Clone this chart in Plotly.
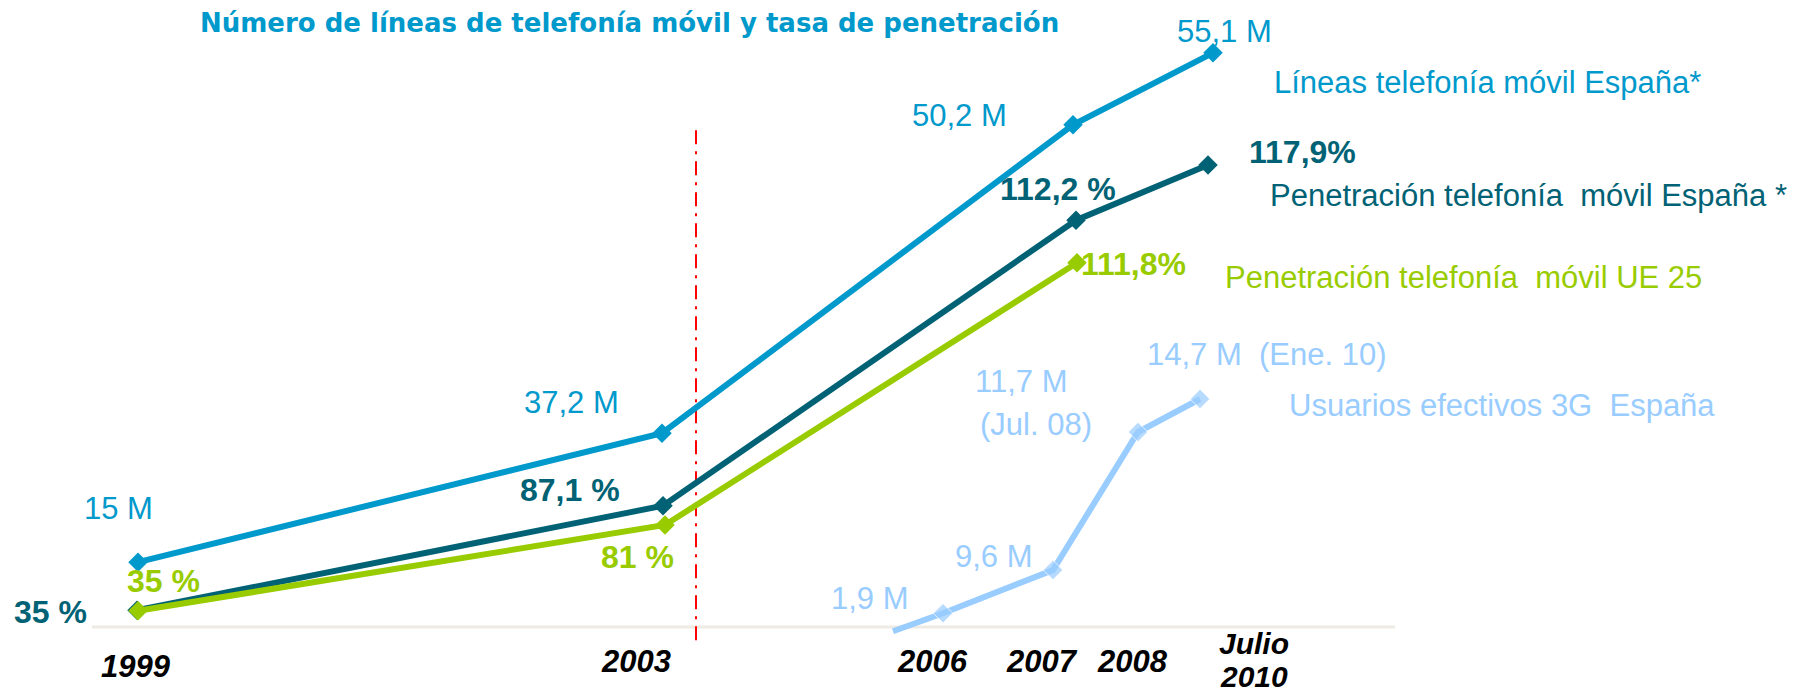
import plotly.graph_objects as go

# ---------------- data ----------------
# horizontal placement of each point on the chart's own (schematic) timeline
lineas_x = [13.8, 66.2, 107.3, 121.3]
pen_es_x = [13.7, 66.3, 107.6, 120.8]
pen_ue_x = [13.8, 66.5, 107.7]
g3_x = [89.3, 94.3, 105.3, 113.8, 120.0]

# plotted heights (schematic, not to scale)
lineas_h = [10.8, 32.3, 83.7, 95.7]
pen_es_h = [2.8, 20.2, 67.8, 77.0]
pen_ue_h = [2.7, 17.0, 60.7]
g3_h = [-0.7, 2.3, 9.5, 32.5, 38.0]

# values written on the chart
lineas_M = ["15 M", "37,2 M", "50,2 M", "55,1 M"]
pen_es_pct = ["35 %", "87,1 %", "112,2 %", "117,9%"]
pen_ue_pct = ["35 %", "81 %", "111,8%"]
g3_M = ["1,9 M", "9,6 M", "11,7 M", "(Jul. 08)", "14,7 M  (Ene. 10)"]

years = ["1999", "2003", "2006", "2007", "2008", "Julio", "2010"]
series_names = ["Líneas telefonía móvil España*",
                "Penetración telefonía\u00a0 móvil España *",
                "Penetración telefonía\u00a0 móvil UE 25",
                "Usuarios efectivos 3G\u00a0 España"]
title = "Número de líneas de telefonía móvil y tasa de penetración"
baseline_x = [9.2, 139.5]
baseline_h = [0, 0]
divider_x = [69.6, 69.6]
divider_h = [82.8, -2.7]

# ---------------- style ----------------
C_LIN = "#0099CC"
C_ES = "#006274"
C_UE = "#99CC00"
C_3G = "#99CCFF"
FONT = "Arial, Liberation Sans, sans-serif"
LW = 6
MS = 15

fig = go.Figure()
fig.add_trace(go.Scatter(x=baseline_x, y=baseline_h, mode="lines",
                         line=dict(color="#EDEBE4", width=3), hoverinfo="skip"))
fig.add_trace(go.Scatter(x=divider_x, y=divider_h, mode="lines",
                         line=dict(color="#FF0000", width=2, dash="14px,7px,3px,7px"),
                         hoverinfo="skip"))
fig.add_trace(go.Scatter(x=lineas_x, y=lineas_h, mode="lines+markers",
                         line=dict(color=C_LIN, width=LW),
                         marker=dict(symbol="diamond", size=MS, color=C_LIN)))
fig.add_trace(go.Scatter(x=pen_es_x, y=pen_es_h, mode="lines+markers",
                         line=dict(color=C_ES, width=LW),
                         marker=dict(symbol="diamond", size=MS, color=C_ES)))
fig.add_trace(go.Scatter(x=pen_ue_x, y=pen_ue_h, mode="lines+markers",
                         line=dict(color=C_UE, width=LW),
                         marker=dict(symbol="diamond", size=MS, color=C_UE)))
fig.add_trace(go.Scatter(x=g3_x, y=g3_h, mode="lines+markers",
                         line=dict(color=C_3G, width=LW),
                         marker=dict(symbol="diamond", size=[0] + [MS] * (len(g3_x) - 1),
                                     color=C_3G)))

ann = []


def add(text, x, y, color, size=31, bold=False, italic=False, xanchor="center", family=FONT):
    t = text
    if italic:
        t = "<i>" + t + "</i>"
    if bold:
        t = "<b>" + t + "</b>"
    ann.append(dict(text=t, x=x, y=y, xref="x", yref="y", showarrow=False,
                    xanchor=xanchor, yanchor="middle",
                    font=dict(family=family, size=size, color=color)))


# title
add(title, 62.9, 100.7, C_LIN, size=26, bold=True, family="DejaVu Sans, Verdana, sans-serif")

# lines values
lin_pos = [(11.8, 19.7), (57.1, 37.5), (95.9, 85.3), (122.4, 99.3)]
for t, (x, y) in zip(lineas_M, lin_pos):
    add(t, x, y, C_LIN)

es_pos = [(5.0, 2.5), (57.0, 22.8), (105.8, 73.0), (130.2, 79.2)]
for t, (x, y) in zip(pen_es_pct, es_pos):
    add(t, x, y, C_ES, size=32, bold=True)

ue_pos = [(16.3, 7.7), (63.7, 11.7), (113.3, 60.5)]
for t, (x, y) in zip(pen_ue_pct, ue_pos):
    add(t, x, y, C_UE, size=32, bold=True)

g3_pos = [(87.0, 4.7), (99.4, 11.8), (102.1, 41.0), (103.6, 33.7), (126.7, 45.5)]
for t, (x, y) in zip(g3_M, g3_pos):
    add(t, x, y, C_3G)

# series names
add(series_names[0], 148.7, 90.7, C_LIN)
add(series_names[1], 126.8, 72.0, C_ES, xanchor="left")
add(series_names[2], 146.3, 58.2, C_UE)
add(series_names[3], 150.2, 37.0, C_3G)

# period labels
year_pos = [(13.6, -6.5), (63.6, -5.8), (93.2, -5.8), (104.2, -5.8), (113.2, -5.8),
            (125.4, -2.67), (125.4, -8.33)]
year_size = [31, 31, 31, 31, 31, 30, 30]
for t, (x, y), s in zip(years, year_pos, year_size):
    add(t, x, y, "#000000", size=s, bold=True, italic=True)

fig.update_layout(
    width=1800, height=694, autosize=False,
    margin=dict(l=0, r=0, t=0, b=0),
    paper_bgcolor="white", plot_bgcolor="white",
    showlegend=False,
    annotations=ann,
    xaxis=dict(domain=[0, 1], range=[0, 180],
               showgrid=False, zeroline=False, showticklabels=False, ticks="",
               fixedrange=True),
    yaxis=dict(range=[-11.1667, 104.5], showgrid=False, showticklabels=False, ticks="",
               zeroline=False, fixedrange=True),
)

fig.write_html("out.html", include_plotlyjs=True, config={"displayModeBar": False},
               post_script="document.body.style.margin='0px';")
